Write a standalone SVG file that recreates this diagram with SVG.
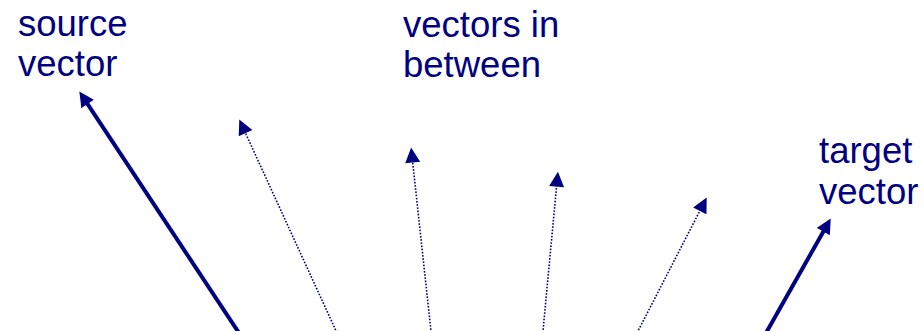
<svg xmlns="http://www.w3.org/2000/svg" width="924" height="331" viewBox="0 0 924 331">
<style>
  .lbl { font-family: "Liberation Sans", Arial, sans-serif; font-size: 36.5px; fill: #000080; }
  .solid { stroke: #000080; stroke-width: 4; fill: none; marker-end: url(#ah); }
  .dot { stroke: #000080; stroke-width: 1.6; stroke-dasharray: 1.6 1.6; fill: none; marker-end: url(#ah); }
</style>
<defs>
  <marker id="ah" viewBox="0 0 16 16" refX="6" refY="8" markerWidth="16" markerHeight="15" markerUnits="userSpaceOnUse" orient="auto">
    <path d="M0,0 L16,8 L0,16 z" fill="#000080"/>
  </marker>
</defs>
<rect width="924" height="331" fill="#ffffff"/>
<g id="label-source">
  <text class="lbl" x="18" y="36">source</text>
  <text class="lbl" x="18" y="76">vector</text>
</g>
<g id="label-between">
  <text class="lbl" x="403" y="37">vectors in</text>
  <text class="lbl" x="403" y="77">between</text>
</g>
<g id="label-target">
  <text class="lbl" x="819" y="163">target</text>
  <text class="lbl" x="819" y="204">vector</text>
</g>
<g id="connectors">
  <line class="solid" x1="239" y1="333" x2="84.5" y2="99.3"/>
  <line class="dot" x1="337" y1="333" x2="243.2" y2="128.1"/>
  <line class="dot" x1="431.2" y1="333" x2="412.1" y2="156.9"/>
  <line class="dot" x1="542.8" y1="333" x2="557.1" y2="181"/>
  <line class="dot" x1="637" y1="333" x2="702.4" y2="205.9"/>
  <line class="solid" x1="766" y1="333" x2="826.1" y2="226.7"/>
</g>
</svg>
